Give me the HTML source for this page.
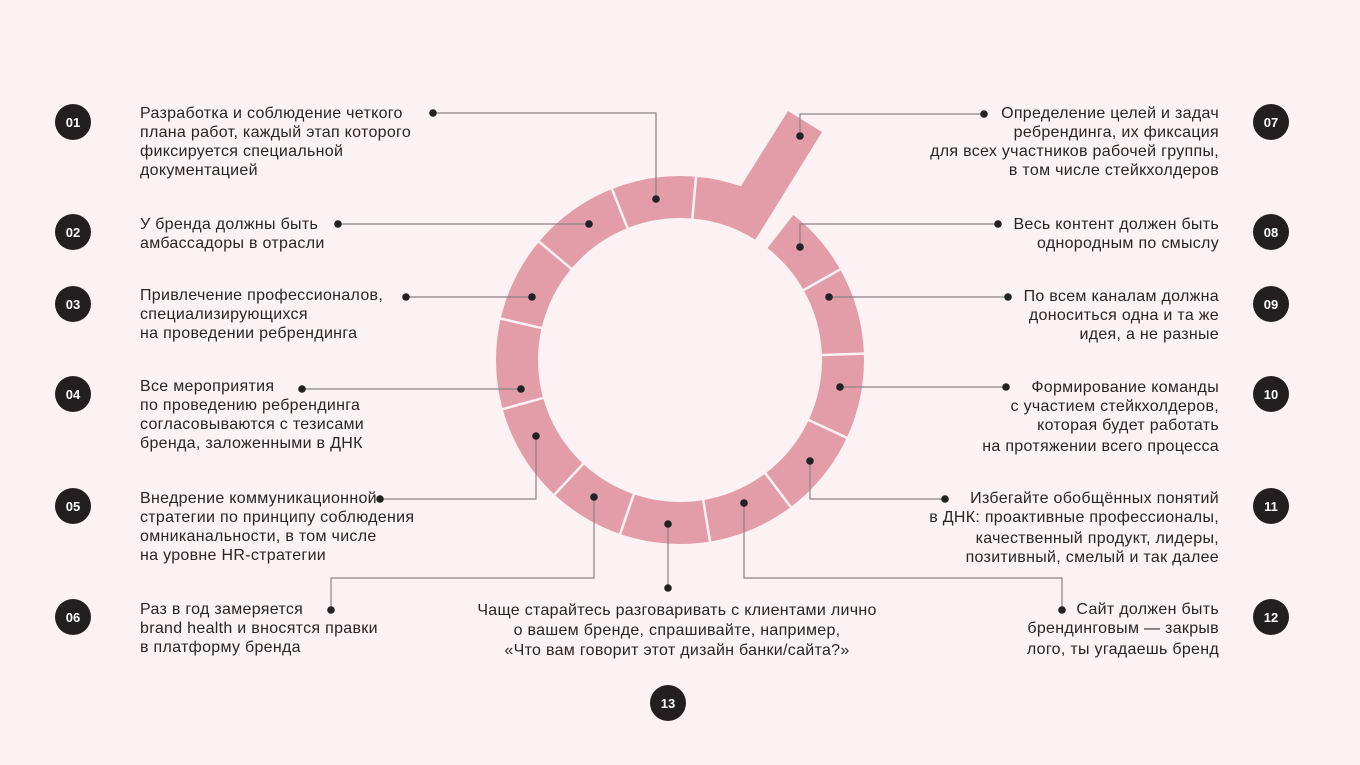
<!DOCTYPE html>
<html><head><meta charset="utf-8"><style>
html,body{margin:0;padding:0;background:#fdf2f3;}
svg{display:block}
text{font-family:"Liberation Sans",sans-serif;font-size:16px;letter-spacing:0.3px;fill:#2a2424;}
.n{font-size:13px;font-weight:bold;fill:#fff;text-anchor:middle;letter-spacing:0}
.r{text-anchor:end}
.c{text-anchor:middle}
</style></head><body>
<svg width="1360" height="765" viewBox="0 0 1360 765">
<rect width="1360" height="765" fill="#fdf2f3"/>
<circle cx="680" cy="360" r="163" fill="none" stroke="#e29da8" stroke-width="42" stroke-dasharray="91 17.1 916.1" transform="rotate(-90 680 360)"/>
<polygon points="788,111 822,132 757,237 741,186" fill="#e29da8"/>
<g stroke="#fdf2f3" stroke-width="2.5">
<line x1="680" y1="170" x2="680" y2="224" transform="rotate(5 680 360)"/>
<line x1="680" y1="170" x2="680" y2="224" transform="rotate(-21.7 680 360)"/>
<line x1="680" y1="170" x2="680" y2="224" transform="rotate(-50 680 360)"/>
<line x1="680" y1="170" x2="680" y2="224" transform="rotate(-77 680 360)"/>
<line x1="680" y1="170" x2="680" y2="224" transform="rotate(-105.5 680 360)"/>
<line x1="680" y1="170" x2="680" y2="224" transform="rotate(-137 680 360)"/>
<line x1="680" y1="170" x2="680" y2="224" transform="rotate(-161 680 360)"/>
<line x1="680" y1="170" x2="680" y2="224" transform="rotate(170.6 680 360)"/>
<line x1="680" y1="170" x2="680" y2="224" transform="rotate(143 680 360)"/>
<line x1="680" y1="170" x2="680" y2="224" transform="rotate(115 680 360)"/>
<line x1="680" y1="170" x2="680" y2="224" transform="rotate(88 680 360)"/>
<line x1="680" y1="170" x2="680" y2="224" transform="rotate(60.5 680 360)"/>
</g>
<g fill="none" stroke="#8a8283" stroke-width="1.2">
<polyline points="433,113 656,113 656,199"/>
<polyline points="338,224 589,224"/>
<polyline points="406,297 532,297"/>
<polyline points="302,389 521,389"/>
<polyline points="380,499 536,499 536,436"/>
<polyline points="331,610 331,578 594,578 594,497"/>
<polyline points="668,588 668,524"/>
<polyline points="1062,610 1062,578 744,578 744,503"/>
<polyline points="945,499 810,499 810,461"/>
<polyline points="1006,387 840,387"/>
<polyline points="1008,297 829,297"/>
<polyline points="998,224 800,224 800,247"/>
<polyline points="984,114 800,114 800,136"/>
</g>
<g fill="#222">
<circle cx="433" cy="113" r="3.8"/><circle cx="656" cy="199" r="3.8"/>
<circle cx="338" cy="224" r="3.8"/><circle cx="589" cy="224" r="3.8"/>
<circle cx="406" cy="297" r="3.8"/><circle cx="532" cy="297" r="3.8"/>
<circle cx="302" cy="389" r="3.8"/><circle cx="521" cy="389" r="3.8"/>
<circle cx="380" cy="499" r="3.8"/><circle cx="536" cy="436" r="3.8"/>
<circle cx="331" cy="610" r="3.8"/><circle cx="594" cy="497" r="3.8"/>
<circle cx="668" cy="588" r="3.8"/><circle cx="668" cy="524" r="3.8"/>
<circle cx="1062" cy="610" r="3.8"/><circle cx="744" cy="503" r="3.8"/>
<circle cx="945" cy="499" r="3.8"/><circle cx="810" cy="461" r="3.8"/>
<circle cx="1006" cy="387" r="3.8"/><circle cx="840" cy="387" r="3.8"/>
<circle cx="1008" cy="297" r="3.8"/><circle cx="829" cy="297" r="3.8"/>
<circle cx="998" cy="224" r="3.8"/><circle cx="800" cy="247" r="3.8"/>
<circle cx="984" cy="114" r="3.8"/><circle cx="800" cy="136" r="3.8"/>
</g>
<g fill="#231f20">
<circle cx="73" cy="122" r="18"/><circle cx="73" cy="232" r="18"/><circle cx="73" cy="304" r="18"/>
<circle cx="73" cy="394" r="18"/><circle cx="73" cy="506" r="18"/><circle cx="73" cy="617" r="18"/>
<circle cx="1271" cy="122" r="18"/><circle cx="1271" cy="232" r="18"/><circle cx="1271" cy="304" r="18"/>
<circle cx="1271" cy="394" r="18"/><circle cx="1271" cy="506" r="18"/><circle cx="1271" cy="617" r="18"/>
<circle cx="668" cy="703" r="18"/>
</g>
<text class="n" x="73" y="127">01</text><text class="n" x="73" y="237">02</text><text class="n" x="73" y="309">03</text>
<text class="n" x="73" y="399">04</text><text class="n" x="73" y="511">05</text><text class="n" x="73" y="622">06</text>
<text class="n" x="1271" y="127">07</text><text class="n" x="1271" y="237">08</text><text class="n" x="1271" y="309">09</text>
<text class="n" x="1271" y="399">10</text><text class="n" x="1271" y="511">11</text><text class="n" x="1271" y="622">12</text>
<text class="n" x="668" y="708">13</text>
<text x="140" y="118">Разработка и соблюдение четкого</text>
<text x="140" y="137">плана работ, каждый этап которого</text>
<text x="140" y="156">фиксируется специальной</text>
<text x="140" y="175">документацией</text>
<text x="140" y="229">У бренда должны быть</text>
<text x="140" y="248">амбассадоры в отрасли</text>
<text x="140" y="300">Привлечение профессионалов,</text>
<text x="140" y="319">специализирующихся</text>
<text x="140" y="338">на проведении ребрендинга</text>
<text x="140" y="391">Все мероприятия</text>
<text x="140" y="410">по проведению ребрендинга</text>
<text x="140" y="429">согласовываются с тезисами</text>
<text x="140" y="448">бренда, заложенными в ДНК</text>
<text x="140" y="503">Внедрение коммуникационной</text>
<text x="140" y="522">стратегии по принципу соблюдения</text>
<text x="140" y="541">омниканальности, в том числе</text>
<text x="140" y="560">на уровне HR-стратегии</text>
<text x="140" y="614">Раз в год замеряется</text>
<text x="140" y="633">brand health и вносятся правки</text>
<text x="140" y="652">в платформу бренда</text>
<text class="r" x="1219" y="118">Определение целей и задач</text>
<text class="r" x="1219" y="137">ребрендинга, их фиксация</text>
<text class="r" x="1219" y="156">для всех участников рабочей группы,</text>
<text class="r" x="1219" y="175">в том числе стейкхолдеров</text>
<text class="r" x="1219" y="229">Весь контент должен быть</text>
<text class="r" x="1219" y="248">однородным по смыслу</text>
<text class="r" x="1219" y="301">По всем каналам должна</text>
<text class="r" x="1219" y="320">доноситься одна и та же</text>
<text class="r" x="1219" y="339">идея, а не разные</text>
<text class="r" x="1219" y="392">Формирование команды</text>
<text class="r" x="1219" y="411">с участием стейкхолдеров,</text>
<text class="r" x="1219" y="430">которая будет работать</text>
<text class="r" x="1219" y="451">на протяжении всего процесса</text>
<text class="r" x="1219" y="503">Избегайте обобщённых понятий</text>
<text class="r" x="1219" y="522">в ДНК: проактивные профессионалы,</text>
<text class="r" x="1219" y="543">качественный продукт, лидеры,</text>
<text class="r" x="1219" y="562">позитивный, смелый и так далее</text>
<text class="r" x="1219" y="614">Сайт должен быть</text>
<text class="r" x="1219" y="633">брендинговым — закрыв</text>
<text class="r" x="1219" y="654">лого, ты угадаешь бренд</text>
<text class="c" x="677" y="615">Чаще старайтесь разговаривать с клиентами лично</text>
<text class="c" x="677" y="635">о вашем бренде, спрашивайте, например,</text>
<text class="c" x="677" y="655">«Что вам говорит этот дизайн банки/сайта?»</text>
</svg>
</body></html>
